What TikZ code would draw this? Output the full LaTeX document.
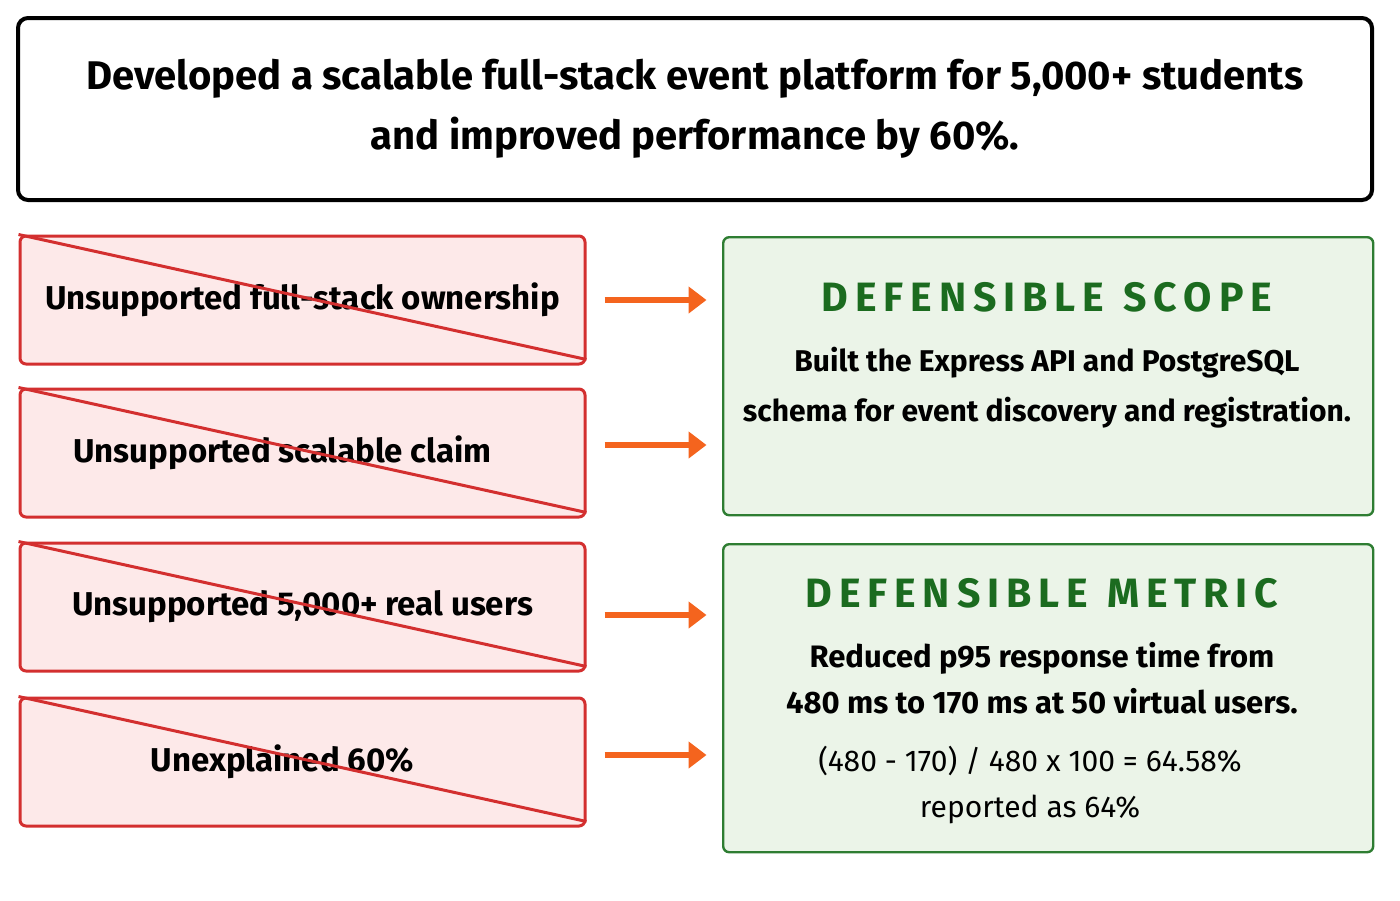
\documentclass[tikz,border=0pt]{standalone}
\usepackage{fontspec}
\setmainfont{Fira Sans}
\usetikzlibrary{arrows.meta,positioning}
\definecolor{badfill}{HTML}{FDE9E9}
\definecolor{badline}{HTML}{D32F2F}
\definecolor{goodfill}{HTML}{EBF4E8}
\definecolor{goodline}{HTML}{2E7D32}
\definecolor{goodtitle}{HTML}{1B6B1F}
\definecolor{arrowcol}{HTML}{F4641E}
\tikzset{
  claim/.style={draw=badline, fill=badfill, line width=1.5pt, rounded corners=3pt,
    minimum width=282.5pt, minimum height=64pt, font=\fontsize{16.5}{20}\selectfont\bfseries, inner sep=0pt},
  fix/.style={draw=goodline, fill=goodfill, line width=1.2pt, rounded corners=3pt,
    minimum width=325pt, anchor=north west},
  fixarrow/.style={-{Triangle[length=9pt,width=13pt]}, draw=arrowcol, line width=3pt}
}
\begin{document}
\begin{tikzpicture}[x=0.5pt,y=-0.5pt]
  \useasboundingbox (0,0) rectangle (1400,900);
  % headline
  \node (head) [draw, line width=2pt, rounded corners=5pt, minimum width=677pt, minimum height=91pt,
    align=center, font=\fontsize{20}{30}\selectfont\bfseries] at (695,109)
    {Developed a scalable full-stack event platform for 5,000+ students\\and improved performance by 60\%.};
  % weak claims
  \node (c1) [claim] at (302.5,300) {Unsupported full-stack ownership};
  \node (c2) [claim] at (302.5,453) {\hspace*{-20pt}Unsupported scalable claim};
  \node (c3) [claim] at (302.5,607) {Unsupported 5,000+ real users};
  \node (c4) [claim] at (302.5,762) {\hspace*{-20pt}Unexplained 60\%};
  \foreach \c in {c1,c2,c3,c4}
    \draw [badline, line width=1.5pt] (\c.north west) -- ([yshift=3pt]\c.south east);
  % defensible versions
  \node (scope) [fix, minimum height=139pt] at (722,236) {};
  \node (metric) [fix, minimum height=154pt] at (722,543) {};
  \node [text=goodtitle, font=\fontsize{20.5}{24}\selectfont\bfseries] at (1047,297) {D\,E\,F\,E\,N\,S\,I\,B\,L\,E\ \ S\,C\,O\,P\,E};
  \node [align=center, font=\fontsize{15}{25}\selectfont\bfseries] at (1047,388)
    {Built the Express API and PostgreSQL\\schema for event discovery and registration.};
  \node [text=goodtitle, font=\fontsize{20.5}{24}\selectfont\bfseries] at (1042,593) {D\,E\,F\,E\,N\,S\,I\,B\,L\,E\ \ M\,E\,T\,R\,I\,C};
  \node [align=center, font=\fontsize{15.5}{23}\selectfont\bfseries] at (1042,678)
    {Reduced p95 response time from\\480 ms to 170 ms at 50 virtual users.};
  \node [align=center, font=\fontsize{15}{23}\selectfont] at (1030,785)
    {(480 - 170) / 480 x 100 = 64.58\%\\reported as 64\%};
  % arrows
  \foreach \c/\y in {c1/300,c2/445,c3/615,c4/755}
    \draw [fixarrow] ([xshift=9pt]\c.east |- 0,\y) -- ([xshift=60pt]\c.east |- 0,\y);
\end{tikzpicture}
\end{document}
